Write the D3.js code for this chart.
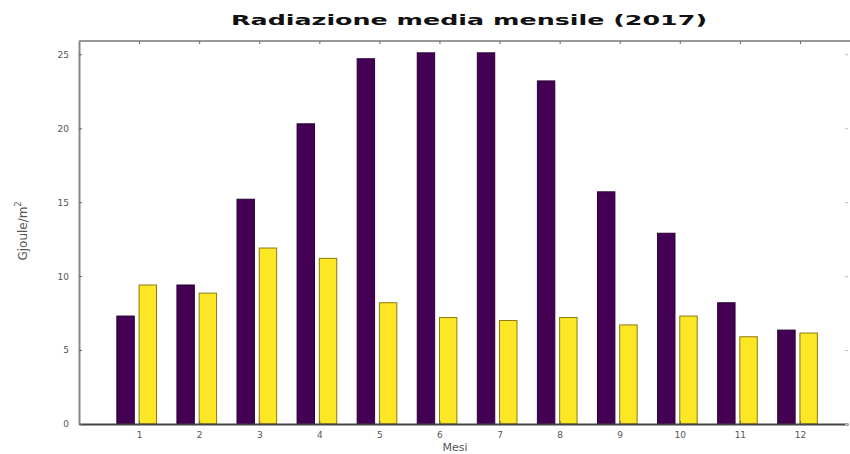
<!DOCTYPE html>
<html lang="en">
<head>
<meta charset="utf-8">
<title>Radiazione media mensile</title>
<script src="https://cdn.jsdelivr.net/npm/d3@7"></script>
<style>
  body { margin: 0; background: #fff; }
  svg { display: block; }
  .tick text { font-family: "DejaVu Sans", sans-serif; font-size: 9px; fill: #555; }
</style>
</head>
<body>
<div id="chart"></div>
<script>
// months and the two series (Gjoule/m2)
let months = [1, 2, 3, 4, 5, 6, 7, 8, 9, 10, 11, 12]
let serieA = [7.3, 9.4, 15.2, 20.3, 24.7, 25.1, 25.1, 23.2, 15.7, 12.9, 8.2, 6.35]
let serieB = [9.4, 8.85, 11.9, 11.2, 8.2, 7.2, 7.0, 7.2, 6.7, 7.3, 5.9, 6.15]
let yTicks = [0, 5, 10, 15, 20, 25]

let w = 850, h = 454
let mLeft = 79, mRight = 848, mTop = 41, mBottom = 424

let svg = d3.select("#chart").append("svg")
    .attr("width", w)
    .attr("height", h);

let x = d3.scaleLinear().domain([0, 12.8]).range([mLeft, mRight]);
let y = d3.scaleLinear().domain([0, 25.9]).range([mBottom, mTop]);

let bw = 0.29

// frame line on top
svg.append("line").attr("x1", mLeft).attr("x2", w).attr("y1", mTop).attr("y2", mTop)
    .attr("stroke", "#999").attr("stroke-width", 2);

// bars - first series
svg.append("g").selectAll("rect")
    .data(serieA)
  .enter().append("rect")
    .attr("x", (d, i) => x(months[i] - 0.37))
    .attr("width", x(bw) - x(0))
    .attr("y", d => y(d))
    .attr("height", d => y(0) - y(d))
    .attr("fill", "#440154")
    .attr("stroke", "#2a0035")
    .attr("stroke-width", 1);

// bars - second series
svg.append("g").selectAll("rect")
    .data(serieB)
  .enter().append("rect")
    .attr("x", (d, i) => x(months[i]))
    .attr("width", x(bw) - x(0))
    .attr("y", d => y(d))
    .attr("height", d => y(0) - y(d))
    .attr("fill", "#fde725")
    .attr("stroke", "#8a7a10")
    .attr("stroke-width", 1);

// axes
let xAxis = svg.append("g")
    .attr("transform", "translate(0," + mBottom + ")")
    .call(d3.axisBottom(x).tickValues(months).tickSize(-3).tickPadding(8).tickSizeOuter(0));
xAxis.select(".domain").attr("stroke", "#444").attr("stroke-width", 2);
xAxis.selectAll(".tick line").attr("stroke", "#666");

let xTop = svg.append("g")
    .attr("transform", "translate(0," + mTop + ")")
    .call(d3.axisTop(x).tickValues(months).tickSize(-3).tickFormat(""));
xTop.select(".domain").remove();
xTop.selectAll(".tick line").attr("stroke", "#666");

let yAxis = svg.append("g")
    .attr("transform", "translate(" + mLeft + ",0)")
    .call(d3.axisLeft(y).tickValues(yTicks).tickSize(-3).tickPadding(10).tickSizeOuter(0));
yAxis.select(".domain").attr("stroke", "#888").attr("stroke-width", 2);
yAxis.selectAll(".tick line").attr("stroke", "#666");

let yRight = svg.append("g")
    .attr("transform", "translate(" + mRight + ",0)")
    .call(d3.axisRight(y).tickValues(yTicks).tickSize(-3).tickFormat(""));
yRight.select(".domain").remove();
yRight.selectAll(".tick line").attr("stroke", "#bbb");

// title
svg.append("text")
    .attr("x", 469).attr("y", 25)
    .attr("text-anchor", "middle")
    .attr("font-family", "DejaVu Sans, sans-serif")
    .attr("font-weight", "bold")
    .attr("font-size", 14)
    .attr("fill", "#111")
    .attr("textLength", 476)
    .attr("lengthAdjust", "spacingAndGlyphs")
    .text("Radiazione media mensile (2017)");

// axis labels
svg.append("text")
    .attr("x", 455).attr("y", 451)
    .attr("text-anchor", "middle")
    .attr("font-family", "DejaVu Sans, sans-serif")
    .attr("font-size", 11)
    .attr("fill", "#555")
    .text("Mesi");

let yl = svg.append("text")
    .attr("transform", "translate(27,231) rotate(-90)")
    .attr("text-anchor", "middle")
    .attr("font-family", "DejaVu Sans, sans-serif")
    .attr("font-size", 12)
    .attr("fill", "#555");
yl.append("tspan").text("Gjoule/m");
yl.append("tspan").attr("dy", -6).attr("font-size", 8).text("2");
</script>
</body>
</html>
